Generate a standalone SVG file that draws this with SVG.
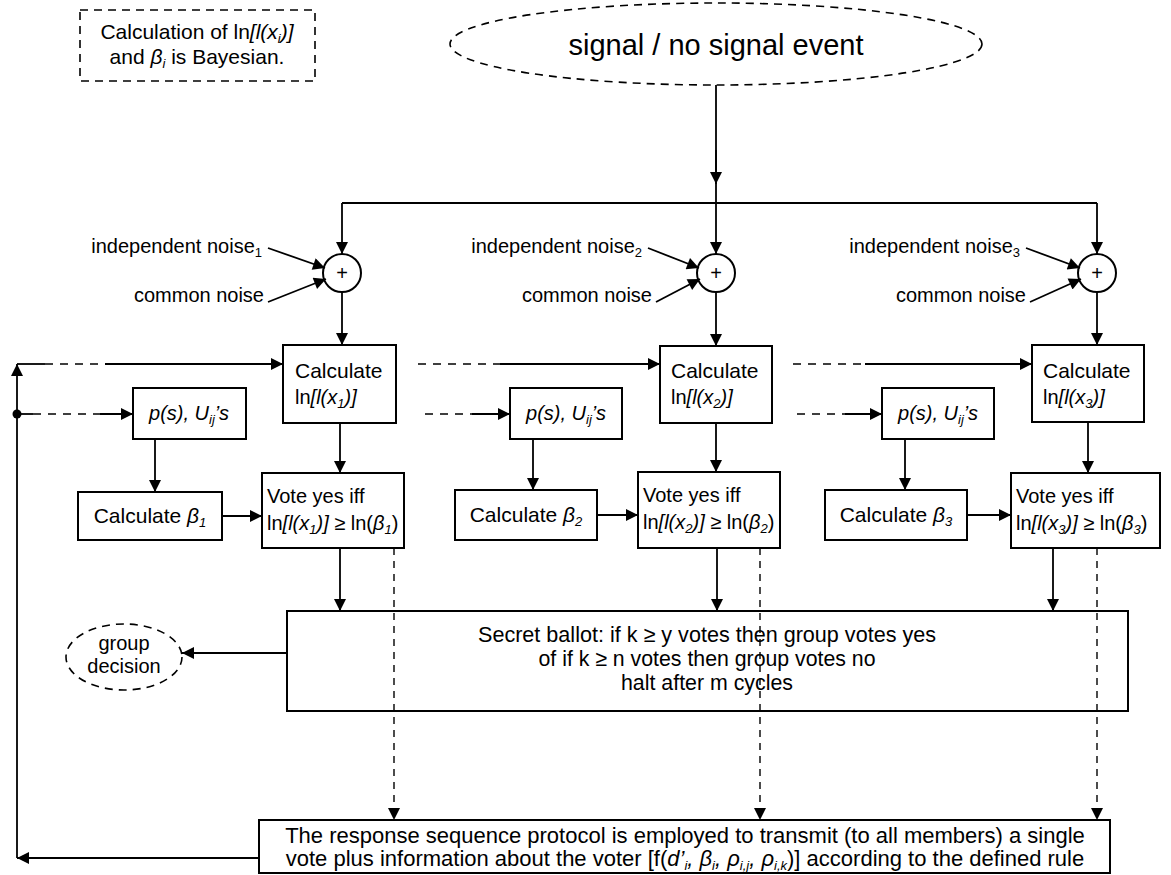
<svg xmlns="http://www.w3.org/2000/svg" width="1171" height="875" viewBox="0 0 1171 875">
<style>
text{font-family:"Liberation Sans",Arial,sans-serif;fill:#000}
.b{fill:#fff;stroke:#000;stroke-width:2}
.bd{fill:none;stroke:#000;stroke-width:1.6;stroke-dasharray:8 6}
.l{fill:none;stroke:#000;stroke-width:1.8}
.d{fill:none;stroke:#000;stroke-width:1.6;stroke-dasharray:8 7}
.dv{fill:none;stroke:#000;stroke-width:1.4;stroke-dasharray:7 6}
.t{font-size:20px}
.i{font-style:italic}
.s{font-size:13px}
.p{font-size:20px;text-anchor:middle}
</style>
<defs>
<marker id="ah" viewBox="0 0 10 10" refX="10" refY="5" markerUnits="userSpaceOnUse" markerWidth="15" markerHeight="12" orient="auto"><path d="M0,0 L10,5 L0,10 z" fill="#000"/></marker>
</defs>

<g id="note">
<rect x="80" y="10" width="235" height="71" class="bd"/>
<text x="197" y="39" text-anchor="middle" font-size="21">Calculation of ln<tspan class="i">[l(x</tspan><tspan class="i s" dy="4">i</tspan><tspan class="i" dy="-4">)]</tspan></text>
<text x="197" y="64" text-anchor="middle" font-size="21">and <tspan class="i">β</tspan><tspan class="i s" dy="4">i</tspan><tspan dy="-4"> is Bayesian.</tspan></text>
</g>

<g id="signal">
<ellipse cx="716" cy="44" rx="266" ry="41" class="bd"/>
<text x="716" y="55" text-anchor="middle" font-size="29">signal / no signal event</text>
</g>

<g id="sum1"><circle cx="342" cy="273" r="19" class="b"/><text x="342" y="280" class="p">+</text></g>
<g id="sum2"><circle cx="716" cy="273" r="19" class="b"/><text x="716" y="280" class="p">+</text></g>
<g id="sum3"><circle cx="1097" cy="273" r="19" class="b"/><text x="1097" y="280" class="p">+</text></g>

<g id="noise-labels">
<text x="262" y="253" text-anchor="end" class="t">independent noise<tspan class="s" dy="4">1</tspan></text>
<text x="264" y="302" text-anchor="end" class="t">common noise</text>
<text x="642" y="253" text-anchor="end" class="t">independent noise<tspan class="s" dy="4">2</tspan></text>
<text x="652" y="302" text-anchor="end" class="t">common noise</text>
<text x="1020" y="253" text-anchor="end" class="t">independent noise<tspan class="s" dy="4">3</tspan></text>
<text x="1026" y="302" text-anchor="end" class="t">common noise</text>
</g>

<g id="calc1"><rect x="283" y="345" width="113" height="78" class="b"/>
<text x="295" y="378" font-size="21">Calculate</text>
<text x="295" y="404" class="t">ln<tspan class="i">[l(x</tspan><tspan class="i s" dy="4">1</tspan><tspan class="i" dy="-4">)]</tspan></text></g>
<g id="calc2"><rect x="660" y="346" width="112" height="77" class="b"/>
<text x="671" y="378" font-size="21">Calculate</text>
<text x="671" y="404" class="t">ln<tspan class="i">[l(x</tspan><tspan class="i s" dy="4">2</tspan><tspan class="i" dy="-4">)]</tspan></text></g>
<g id="calc3"><rect x="1032" y="345" width="112" height="77" class="b"/>
<text x="1043" y="378" font-size="21">Calculate</text>
<text x="1043" y="404" class="t">ln<tspan class="i">[l(x</tspan><tspan class="i s" dy="4">3</tspan><tspan class="i" dy="-4">)]</tspan></text></g>

<g id="prior1"><rect x="133" y="388" width="113" height="51" class="b"/>
<text x="189" y="420" text-anchor="middle" class="t i">p(s), U<tspan class="s" dy="4">ij</tspan><tspan dy="-4">’s</tspan></text></g>
<g id="prior2"><rect x="510" y="388" width="112" height="51" class="b"/>
<text x="566" y="420" text-anchor="middle" class="t i">p(s), U<tspan class="s" dy="4">ij</tspan><tspan dy="-4">’s</tspan></text></g>
<g id="prior3"><rect x="882" y="388" width="112" height="51" class="b"/>
<text x="938" y="420" text-anchor="middle" class="t i">p(s), U<tspan class="s" dy="4">ij</tspan><tspan dy="-4">’s</tspan></text></g>

<g id="beta1"><rect x="78" y="492" width="144" height="48" class="b"/>
<text x="150" y="523" text-anchor="middle" font-size="21">Calculate <tspan class="i">β</tspan><tspan class="i s" dy="4">1</tspan></text></g>
<g id="beta2"><rect x="455" y="490" width="142" height="50" class="b"/>
<text x="526" y="522" text-anchor="middle" font-size="21">Calculate <tspan class="i">β</tspan><tspan class="i s" dy="4">2</tspan></text></g>
<g id="beta3"><rect x="825" y="490" width="142" height="50" class="b"/>
<text x="896" y="522" text-anchor="middle" font-size="21">Calculate <tspan class="i">β</tspan><tspan class="i s" dy="4">3</tspan></text></g>

<g id="vote1"><rect x="262" y="473" width="142" height="75" class="b"/>
<text x="267" y="503" class="t">Vote yes iff</text>
<text x="267" y="530" class="t">ln<tspan class="i">[l(x</tspan><tspan class="i s" dy="4">1</tspan><tspan class="i" dy="-4">)]</tspan> ≥ ln(<tspan class="i">β</tspan><tspan class="i s" dy="4">1</tspan><tspan dy="-4">)</tspan></text></g>
<g id="vote2"><rect x="638" y="472" width="142" height="76" class="b"/>
<text x="643" y="502" class="t">Vote yes iff</text>
<text x="643" y="529" class="t">ln<tspan class="i">[l(x</tspan><tspan class="i s" dy="4">2</tspan><tspan class="i" dy="-4">)]</tspan> ≥ ln(<tspan class="i">β</tspan><tspan class="i s" dy="4">2</tspan><tspan dy="-4">)</tspan></text></g>
<g id="vote3"><rect x="1011" y="473" width="149" height="75" class="b"/>
<text x="1016" y="503" class="t">Vote yes iff</text>
<text x="1016" y="530" class="t">ln<tspan class="i">[l(x</tspan><tspan class="i s" dy="4">3</tspan><tspan class="i" dy="-4">)]</tspan> ≥ ln(<tspan class="i">β</tspan><tspan class="i s" dy="4">3</tspan><tspan dy="-4">)</tspan></text></g>

<g id="ballot"><rect x="287" y="611" width="841" height="100" class="b"/>
<text x="707" y="642" text-anchor="middle" font-size="22" textLength="458" lengthAdjust="spacingAndGlyphs">Secret ballot:  if k ≥ y votes then group votes yes</text>
<text x="707" y="666" text-anchor="middle" font-size="22" textLength="337" lengthAdjust="spacingAndGlyphs">of if k ≥ n votes then group votes no</text>
<text x="707" y="690" text-anchor="middle" font-size="22" textLength="172" lengthAdjust="spacingAndGlyphs">halt after m cycles</text></g>

<g id="decision"><ellipse cx="124" cy="657" rx="58" ry="33" class="bd"/>
<text x="124" y="650" text-anchor="middle" class="t">group</text>
<text x="124" y="673" text-anchor="middle" class="t">decision</text></g>

<g id="protocol"><rect x="259" y="820" width="851" height="53" class="b"/>
<text x="685" y="843" text-anchor="middle" font-size="22">The response sequence protocol is employed to transmit (to all members) a single</text>
<text x="685" y="866" text-anchor="middle" font-size="22">vote plus information about the voter [f(<tspan class="i">d’</tspan><tspan class="i s" dy="4">i</tspan><tspan class="i" dy="-4">, β</tspan><tspan class="i s" dy="4">i</tspan><tspan class="i" dy="-4">, ρ</tspan><tspan class="i s" dy="4">i,j</tspan><tspan class="i" dy="-4">, ρ</tspan><tspan class="i s" dy="4">i,k</tspan><tspan dy="-4">)] according to the defined rule</tspan></text></g>

<g id="connectors">
<line x1="716" y1="85" x2="716" y2="203" class="l"/>
<path d="M716,150 L716,184" class="l" marker-end="url(#ah)"/>
<line x1="342" y1="203" x2="1097" y2="203" class="l"/>
<line x1="342" y1="203" x2="342" y2="254" class="l" marker-end="url(#ah)"/>
<line x1="716" y1="203" x2="716" y2="254" class="l" marker-end="url(#ah)"/>
<line x1="1097" y1="203" x2="1097" y2="254" class="l" marker-end="url(#ah)"/>
<line x1="268" y1="248" x2="325" y2="268" class="l" marker-end="url(#ah)"/>
<line x1="268" y1="302" x2="326" y2="279" class="l" marker-end="url(#ah)"/>
<line x1="648" y1="248" x2="699" y2="268" class="l" marker-end="url(#ah)"/>
<line x1="656" y1="302" x2="700" y2="279" class="l" marker-end="url(#ah)"/>
<line x1="1026" y1="248" x2="1080" y2="268" class="l" marker-end="url(#ah)"/>
<line x1="1030" y1="302" x2="1081" y2="279" class="l" marker-end="url(#ah)"/>
<line x1="342" y1="292" x2="342" y2="345" class="l" marker-end="url(#ah)"/>
<line x1="716" y1="292" x2="716" y2="346" class="l" marker-end="url(#ah)"/>
<line x1="1097" y1="292" x2="1097" y2="345" class="l" marker-end="url(#ah)"/>
<path d="M259,858 L17,858" class="l" marker-end="url(#ah)"/>
<path d="M17,858 L17,364" class="l" marker-end="url(#ah)"/>
<line x1="17" y1="364" x2="45" y2="364" class="l"/>
<line x1="45" y1="364" x2="105" y2="364" class="d"/>
<line x1="105" y1="364" x2="283" y2="364" class="l" marker-end="url(#ah)"/>
<circle cx="17" cy="414" r="4.5" fill="#000"/>
<line x1="17" y1="414" x2="33" y2="414" class="l"/>
<line x1="33" y1="414" x2="100" y2="414" class="d"/>
<line x1="100" y1="414" x2="133" y2="414" class="l" marker-end="url(#ah)"/>
<line x1="418" y1="364" x2="500" y2="364" class="d"/>
<line x1="500" y1="364" x2="660" y2="364" class="l" marker-end="url(#ah)"/>
<line x1="425" y1="414" x2="472" y2="414" class="d"/>
<line x1="472" y1="414" x2="510" y2="414" class="l" marker-end="url(#ah)"/>
<line x1="793" y1="364" x2="865" y2="364" class="d"/>
<line x1="865" y1="364" x2="1032" y2="364" class="l" marker-end="url(#ah)"/>
<line x1="797" y1="414" x2="845" y2="414" class="d"/>
<line x1="845" y1="414" x2="882" y2="414" class="l" marker-end="url(#ah)"/>
<line x1="155" y1="439" x2="155" y2="492" class="l" marker-end="url(#ah)"/>
<line x1="533" y1="439" x2="533" y2="490" class="l" marker-end="url(#ah)"/>
<line x1="905" y1="439" x2="905" y2="490" class="l" marker-end="url(#ah)"/>
<line x1="340" y1="423" x2="340" y2="473" class="l" marker-end="url(#ah)"/>
<line x1="716" y1="423" x2="716" y2="472" class="l" marker-end="url(#ah)"/>
<line x1="1088" y1="422" x2="1088" y2="473" class="l" marker-end="url(#ah)"/>
<line x1="222" y1="516" x2="262" y2="516" class="l" marker-end="url(#ah)"/>
<line x1="597" y1="515" x2="638" y2="515" class="l" marker-end="url(#ah)"/>
<line x1="967" y1="515" x2="1011" y2="515" class="l" marker-end="url(#ah)"/>
<line x1="340" y1="548" x2="340" y2="611" class="l" marker-end="url(#ah)"/>
<line x1="717" y1="548" x2="717" y2="611" class="l" marker-end="url(#ah)"/>
<line x1="1053" y1="548" x2="1053" y2="611" class="l" marker-end="url(#ah)"/>
<line x1="394" y1="548" x2="394" y2="820" class="dv" marker-end="url(#ah)"/>
<line x1="760" y1="548" x2="760" y2="820" class="dv" marker-end="url(#ah)"/>
<line x1="1097" y1="548" x2="1097" y2="820" class="dv" marker-end="url(#ah)"/>
<line x1="287" y1="653" x2="182" y2="653" class="l" marker-end="url(#ah)"/>
</g>
</svg>
